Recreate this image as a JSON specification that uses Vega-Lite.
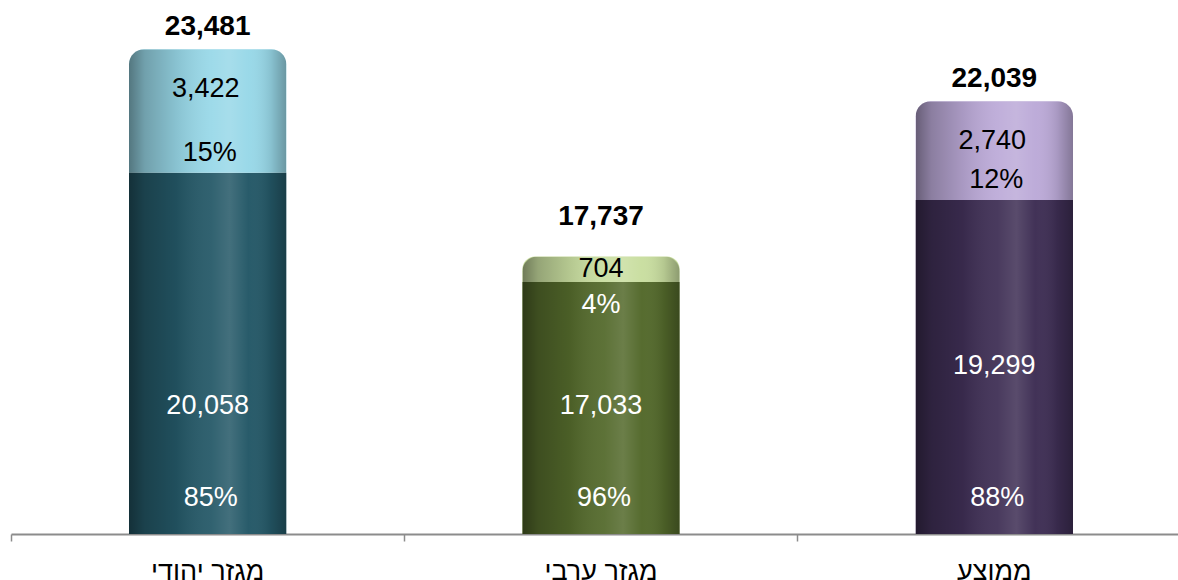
{
  "$schema": "https://vega.github.io/schema/vega-lite/v6.json",
  "autosize": {"type": "none"},
  "padding": {"left": 11, "top": 0, "right": 0, "bottom": 46},
  "width": 1180,
  "height": 534,
  "background": "#ffffff",
  "config": {"view": {"stroke": null}, "font": "Liberation Sans"},
  "data": {
    "values": [
      {"sector": "מגזר יהודי", "low": 20058, "high": 3422, "total": 23481, "lowPct": 0.85, "highPct": 0.15},
      {"sector": "מגזר ערבי", "low": 17033, "high": 704, "total": 17737, "lowPct": 0.96, "highPct": 0.04},
      {"sector": "ממוצע", "low": 19299, "high": 2740, "total": 22039, "lowPct": 0.88, "highPct": 0.12}
    ]
  },
  "encoding": {
    "x": {
      "field": "sector", "type": "nominal", "sort": null,
      "scale": {"paddingInner": 0, "paddingOuter": 0},
      "axis": {
        "title": null, "labelAngle": 0, "bandPosition": 0,
        "domainColor": "#8c8c8c", "domainWidth": 2,
        "tickColor": "#8c8c8c", "tickWidth": 1.5, "tickSize": 7,
        "labelFontSize": 27, "labelColor": "#000000", "labelFont": "Liberation Sans",
        "labelPadding": 17, "labelBaseline": "top"
      }
    }
  },
  "layer": [
    {
      "mark": {"type": "bar", "width": {"band": 0.4}},
      "encoding": {
        "y": {"field": "low", "type": "quantitative", "axis": null,
              "scale": {"domain": [10050, 24842], "clamp": true, "nice": false}},
        "color": {"field": "sector", "type": "nominal", "legend": null,
                  "scale": {"domain": ["מגזר יהודי", "מגזר ערבי", "ממוצע"], "range": ["#245867", "#53692b", "#3e2e54"]}}
      }
    },
    {
      "mark": {"type": "bar", "width": {"band": 0.4}, "cornerRadiusTopLeft": 15, "cornerRadiusTopRight": 15},
      "encoding": {
        "y": {"field": "total", "type": "quantitative"},
        "y2": {"field": "low"},
        "color": {"field": "sector", "type": "nominal", "legend": null,
                  "scale": {"domain": ["מגזר יהודי", "מגזר ערבי", "ממוצע"], "range": ["#98d8e8", "#c9dea0", "#bcaad8"]}}
      }
    },
    {
      "mark": {"type": "bar", "width": {"band": 0.4}, "cornerRadiusTopLeft": 15, "cornerRadiusTopRight": 15,
        "color": {"gradient": "linear", "x1": 0, "x2": 1, "y1": 0, "y2": 0,
          "stops": [
            {"offset": 0, "color": "rgba(0,0,0,0.45)"},
            {"offset": 0.1, "color": "rgba(0,0,0,0.26)"},
            {"offset": 0.3, "color": "rgba(0,0,0,0.1)"},
            {"offset": 0.52, "color": "rgba(255,255,255,0.06)"},
            {"offset": 0.64, "color": "rgba(255,255,255,0.14)"},
            {"offset": 0.76, "color": "rgba(255,255,255,0.02)"},
            {"offset": 0.9, "color": "rgba(0,0,0,0.1)"},
            {"offset": 1, "color": "rgba(0,0,0,0.3)"}
          ]}},
      "encoding": {
        "y": {"field": "total", "type": "quantitative"}
      }
    },
    {
      "transform": [{"filter": "datum.sector !== 'מגזר ערבי'"}],
      "mark": {"type": "text", "fontSize": 28, "fontWeight": "bold", "color": "#000000", "baseline": "middle", "dy": -22},
      "encoding": {"y": {"field": "total", "type": "quantitative"}, "text": {"field": "total", "format": ","}}
    },
    {
      "transform": [{"filter": "datum.sector === 'מגזר ערבי'"}],
      "mark": {"type": "text", "fontSize": 28, "fontWeight": "bold", "color": "#000000", "baseline": "middle", "dy": -39},
      "encoding": {"y": {"field": "total", "type": "quantitative"}, "text": {"field": "total", "format": ","}}
    },
    {
      "transform": [{"filter": "datum.sector !== 'מגזר ערבי'"}],
      "mark": {"type": "text", "fontSize": 27, "color": "#000000", "baseline": "middle", "dy": 40, "dx": -2},
      "encoding": {"y": {"field": "total", "type": "quantitative"}, "text": {"field": "high", "format": ","}}
    },
    {
      "transform": [{"filter": "datum.sector === 'מגזר ערבי'"}],
      "mark": {"type": "text", "fontSize": 27, "color": "#000000", "baseline": "middle", "dy": 13},
      "encoding": {"y": {"field": "total", "type": "quantitative"}, "text": {"field": "high", "format": ","}}
    },
    {
      "transform": [{"filter": "datum.sector !== 'מגזר ערבי'"}],
      "mark": {"type": "text", "fontSize": 27, "color": "#000000", "baseline": "middle", "dy": -20, "dx": 2},
      "encoding": {"y": {"field": "low", "type": "quantitative"}, "text": {"field": "highPct", "format": ".0%"}}
    },
    {
      "transform": [{"filter": "datum.sector === 'מגזר ערבי'"}],
      "mark": {"type": "text", "fontSize": 27, "color": "#ffffff", "baseline": "middle", "dy": 23},
      "encoding": {"y": {"field": "low", "type": "quantitative"}, "text": {"field": "highPct", "format": ".0%"}}
    },
    {
      "transform": [{"filter": "datum.sector !== 'ממוצע'"}],
      "mark": {"type": "text", "fontSize": 27, "color": "#ffffff", "baseline": "middle", "dy": -128},
      "encoding": {"y": {"datum": 0, "type": "quantitative"}, "text": {"field": "low", "format": ","}}
    },
    {
      "transform": [{"filter": "datum.sector === 'ממוצע'"}],
      "mark": {"type": "text", "fontSize": 27, "color": "#ffffff", "baseline": "middle", "dy": -168},
      "encoding": {"y": {"datum": 0, "type": "quantitative"}, "text": {"field": "low", "format": ","}}
    },
    {
      "mark": {"type": "text", "fontSize": 27, "color": "#ffffff", "baseline": "middle", "dy": -36, "dx": 3},
      "encoding": {"y": {"datum": 0, "type": "quantitative"}, "text": {"field": "lowPct", "format": ".0%"}}
    }
  ],
  "resolve": {"scale": {"color": "independent"}}
}
